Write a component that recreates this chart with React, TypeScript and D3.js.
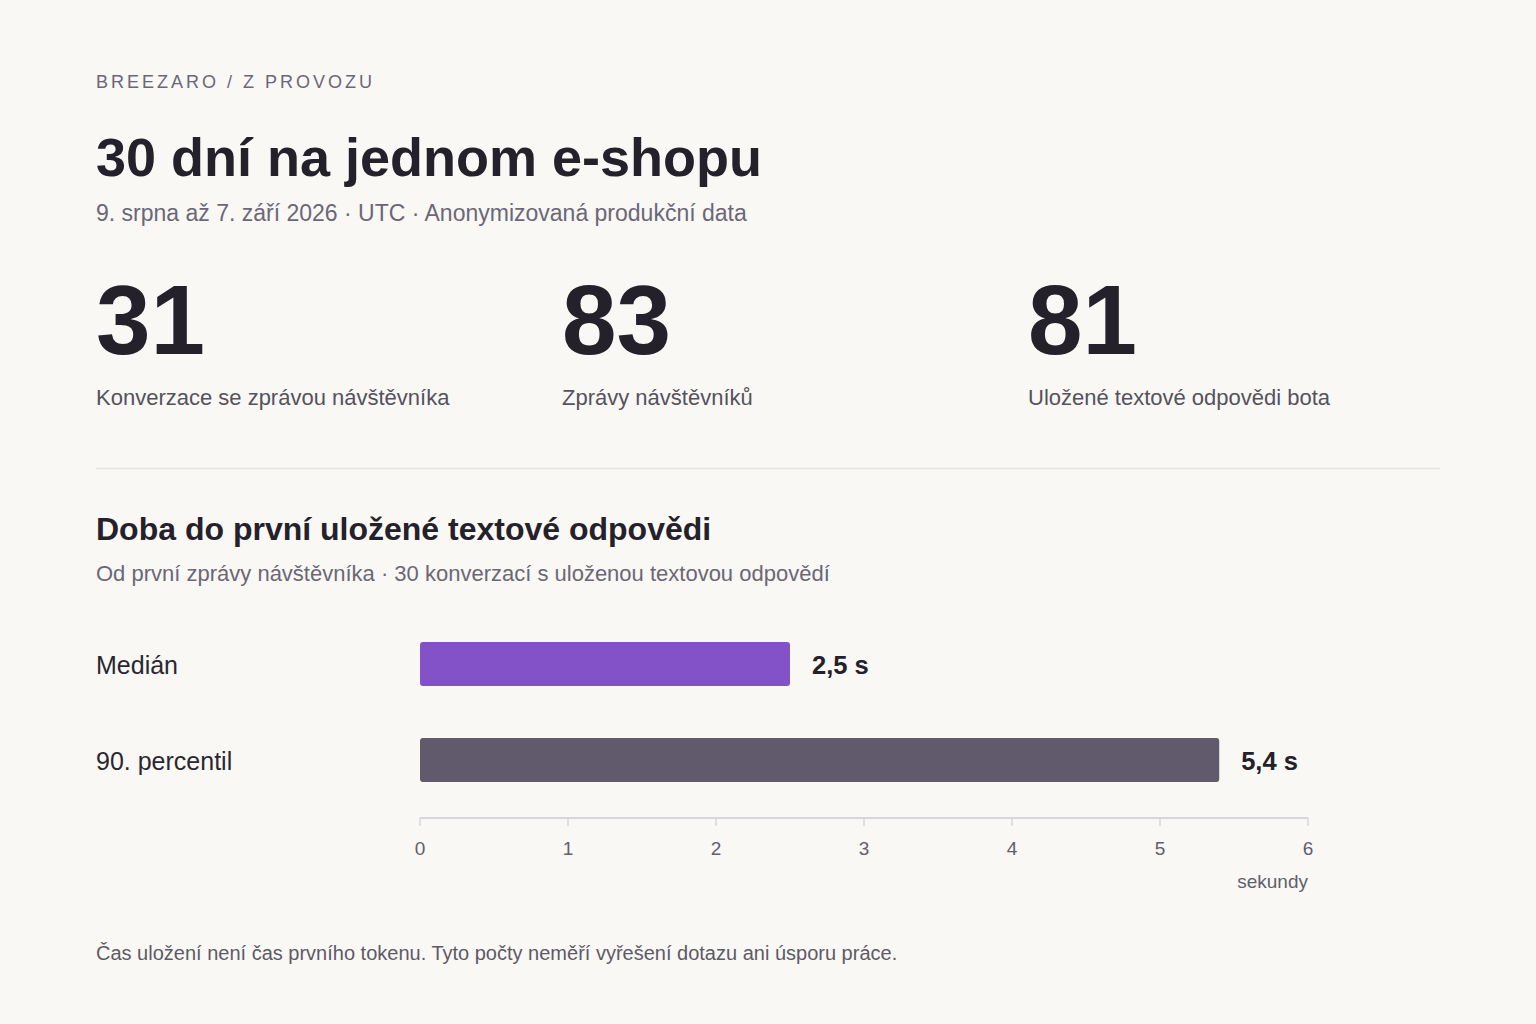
import React from "react";
import * as d3 from "d3";

const kpiValues = [31, 83, 81];
const kpiLabels = [
  "Konverzace se zprávou návštěvníka",
  "Zprávy návštěvníků",
  "Uložené textové odpovědi bota",
];
const barCategories = ["Medián", "90. percentil"];
const barValues = [2.5, 5.4];
const barLabels = ["2,5 s", "5,4 s"];
const barColors = ["#8352c8", "#615a6d"];
const axisTicks = [0, 1, 2, 3, 4, 5, 6];

const W = 1536;
const H = 1024;
const FONT = "'Liberation Sans', Arial, Helvetica, sans-serif";
const DARK = "#24212b";
const MUTED = "#6b6777";

export default function App() {
  const x = d3.scaleLinear().domain([0, 6]).range([420, 1308]);
  const y = d3.scaleBand<string>().domain(barCategories).range([616, 808]).paddingInner(0.54).paddingOuter(0.27);
  const kpiX = d3.scalePoint<number>().domain([0, 1, 2]).range([96, 1028]);

  return (
    <svg
      width={W}
      height={H}
      style={{ position: "absolute", left: 0, top: 0, display: "block" }}
      fontFamily={FONT}
    >
      <rect x={0} y={0} width={W} height={H} fill="#f9f8f5" />
      <text x={96} y={88} fontSize={18} letterSpacing={3} fill={MUTED}>
        BREEZARO / Z PROVOZU
      </text>
      <text x={96} y={176} fontSize={54} fontWeight="bold" fill={DARK}>
        30 dní na jednom e-shopu
      </text>
      <text x={96} y={221} fontSize={23} fill={MUTED}>
        9. srpna až 7. září 2026 · UTC · Anonymizovaná produkční data
      </text>

      {kpiValues.map((v, i) => (
        <g key={i}>
          <text x={kpiX(i)} y={354} fontSize={98} fontWeight="bold" fill={DARK}>
            {v}
          </text>
          <text x={kpiX(i)} y={405} fontSize={22} fill="#55525e">
            {kpiLabels[i]}
          </text>
        </g>
      ))}

      <line x1={96} x2={1440} y1={468.5} y2={468.5} stroke="#e6e4e4" strokeWidth={1.5} />

      <text x={96} y={540} fontSize={32} fontWeight="bold" fill={DARK}>
        Doba do první uložené textové odpovědi
      </text>
      <text x={96} y={581} fontSize={22} fill={MUTED}>
        Od první zprávy návštěvníka · 30 konverzací s uloženou textovou odpovědí
      </text>

      {barCategories.map((c, i) => {
        const by = y(c) as number;
        const bh = y.bandwidth();
        return (
          <g key={c}>
            <text x={96} y={by + bh / 2 + 9.5} fontSize={25} fill="#2a2730">
              {c}
            </text>
            <rect
              x={x(0)}
              y={by}
              width={x(barValues[i]) - x(0)}
              height={bh}
              rx={3}
              fill={barColors[i]}
            />
            <text
              x={x(barValues[i]) + 22}
              y={by + bh / 2 + 9.5}
              fontSize={25.5}
              fontWeight="bold"
              fill={DARK}
            >
              {barLabels[i]}
            </text>
          </g>
        );
      })}

      <line x1={x(0)} x2={x(6)} y1={818} y2={818} stroke="#d8d5dc" strokeWidth={2} />
      {axisTicks.map((t) => (
        <g key={t}>
          <line x1={x(t)} x2={x(t)} y1={818} y2={826} stroke="#d8d5dc" strokeWidth={1.5} />
          <text x={x(t)} y={855} fontSize={19} textAnchor="middle" fill="#625e6b">
            {t}
          </text>
        </g>
      ))}
      <text x={x(6)} y={888} fontSize={19} textAnchor="end" fill="#625e6b">
        sekundy
      </text>

      <text x={96} y={960} fontSize={20} fill="#5e5a66">
        Čas uložení není čas prvního tokenu. Tyto počty neměří vyřešení dotazu ani úsporu práce.
      </text>
    </svg>
  );
}
